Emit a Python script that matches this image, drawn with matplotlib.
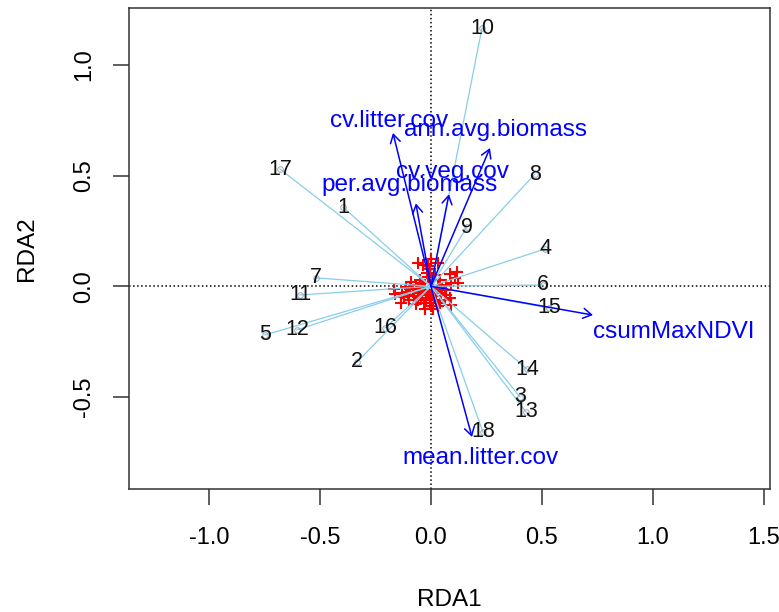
import numpy as np
import matplotlib
matplotlib.use("Agg")
import matplotlib.pyplot as plt

plt.rcParams['font.family'] = ['Liberation Sans', 'DejaVu Sans']

# site scores (labels 1..18)
site_lab = [str(i) for i in range(1, 19)]
site_x = [-0.396, -0.333, 0.401, 0.514, -0.748, 0.505, -0.518, 0.468, 0.162,
          0.230, -0.590, -0.604, 0.428, 0.432, 0.532, -0.207, -0.680, 0.234]
site_y = [0.358, -0.342, -0.500, 0.169, -0.220, 0.006, 0.038, 0.507, 0.268,
          1.167, -0.039, -0.197, -0.568, -0.374, -0.098, -0.188, 0.530, -0.658]

# species scores (red crosses)
sp_x = [-0.059, -0.036, 0.001, -0.014, 0.032, 0.084, 0.118, 0.107, 0.091, 0.122,
        -0.167, -0.164, -0.131, -0.111, -0.134, -0.100, -0.066, -0.028, 0.009, 0.039,
        0.062, 0.084, 0.091, -0.089, -0.066, -0.044, -0.081, -0.051, -0.028, -0.014,
        -0.021, 0.001, -0.044, 0.017, 0.032, 0.046, 0.009, -0.014, -0.104, -0.006,
        0.024, -0.036, -0.059, 0.062, 0.069,
        -0.075, -0.060, -0.040, -0.030, -0.010, 0.000, 0.015, -0.050, -0.020, 0.020,
        0.040, -0.095, -0.120, 0.050, 0.030, -0.005, 0.070]
sp_y = [0.104, 0.096, 0.122, 0.092, 0.104, 0.056, 0.066, 0.036, 0.014, 0.014,
        -0.014, -0.035, -0.029, -0.005, -0.077, -0.062, -0.081, -0.104, -0.104, -0.077,
        -0.062, -0.054, -0.085, 0.021, 0.006, 0.014, -0.024, -0.032, -0.017, -0.039,
        -0.062, -0.054, -0.054, -0.024, -0.002, -0.032, 0.028, 0.043, -0.039, -0.077,
        -0.062, -0.002, -0.009, -0.017, 0.006,
        -0.045, -0.060, -0.030, -0.075, -0.020, -0.090, -0.045, 0.030, 0.060, 0.050,
        0.030, -0.010, -0.050, -0.010, -0.090, 0.080, -0.040]

# environmental arrows
env_lab = ["cv.litter.cov", "ann.avg.biomass", "cv.veg.cov", "per.avg.biomass",
           "csumMaxNDVI", "mean.litter.cov"]
env_x = [-0.171, 0.266, 0.081, -0.068, 0.730, 0.185]
env_y = [0.693, 0.625, 0.416, 0.375, -0.130, -0.681]
env_tx = [-0.187, 0.293, 0.099, -0.095, 1.095, 0.225]
env_ty = [0.747, 0.706, 0.516, 0.458, -0.207, -0.776]

fig = plt.figure(figsize=(7.79, 6.12), dpi=100)
ax = fig.add_axes([0.1656, 0.201, 0.8228, 0.786])

ax.axhline(0, color='black', ls=':', lw=1.1, zorder=1)
ax.axvline(0, color='black', ls=':', lw=1.1, zorder=1)

ax.plot(sp_x, sp_y, ls='none', marker='+', color='red', ms=8.5, mew=1.5, zorder=2)

for x, y in zip(site_x, site_y):
    ax.plot([0, x], [0, y], color='skyblue', lw=0.9, zorder=3)
ax.plot(site_x, site_y, ls='none', marker='o', mfc='none', mec='#9aa8b4', ms=4, mew=0.7, zorder=3)

for x, y in zip(env_x, env_y):
    ax.annotate("", xy=(x, y), xytext=(0, 0),
                arrowprops=dict(arrowstyle='->,head_length=0.5,head_width=0.3',
                                color='blue', lw=1.1, shrinkA=0, shrinkB=0,
                                mutation_scale=12), zorder=4)

for lab, x, y in zip(site_lab, site_x, site_y):
    ax.text(x, y, lab, ha='center', va='center', fontsize=15.5, color='#111111', zorder=5)

for lab, x, y in zip(env_lab, env_tx, env_ty):
    ax.text(x, y, lab, ha='center', va='center', fontsize=17.5, color='blue', zorder=5)

ax.set_xlim(-1.36, 1.527)
ax.set_ylim(-0.916, 1.258)
ax.set_xticks([-1.0, -0.5, 0.0, 0.5, 1.0, 1.5])
ax.set_yticks([-0.5, 0.0, 0.5, 1.0])
ax.set_xticklabels(["-1.0", "-0.5", "0.0", "0.5", "1.0", "1.5"])
ax.set_yticklabels(["-0.5", "0.0", "0.5", "1.0"], rotation=90, va='center')
ax.tick_params(axis='both', length=11.5, width=1.1, color='#333333', labelsize=17)
ax.tick_params(axis='x', pad=16)
ax.tick_params(axis='y', pad=13)
for s in ax.spines.values():
    s.set_color('#333333')
    s.set_linewidth(1.1)

ax.set_xlabel("RDA1", fontsize=17.5, labelpad=29)
ax.set_ylabel("RDA2", fontsize=17.5, labelpad=25)

fig.savefig("out.png", dpi=100)
